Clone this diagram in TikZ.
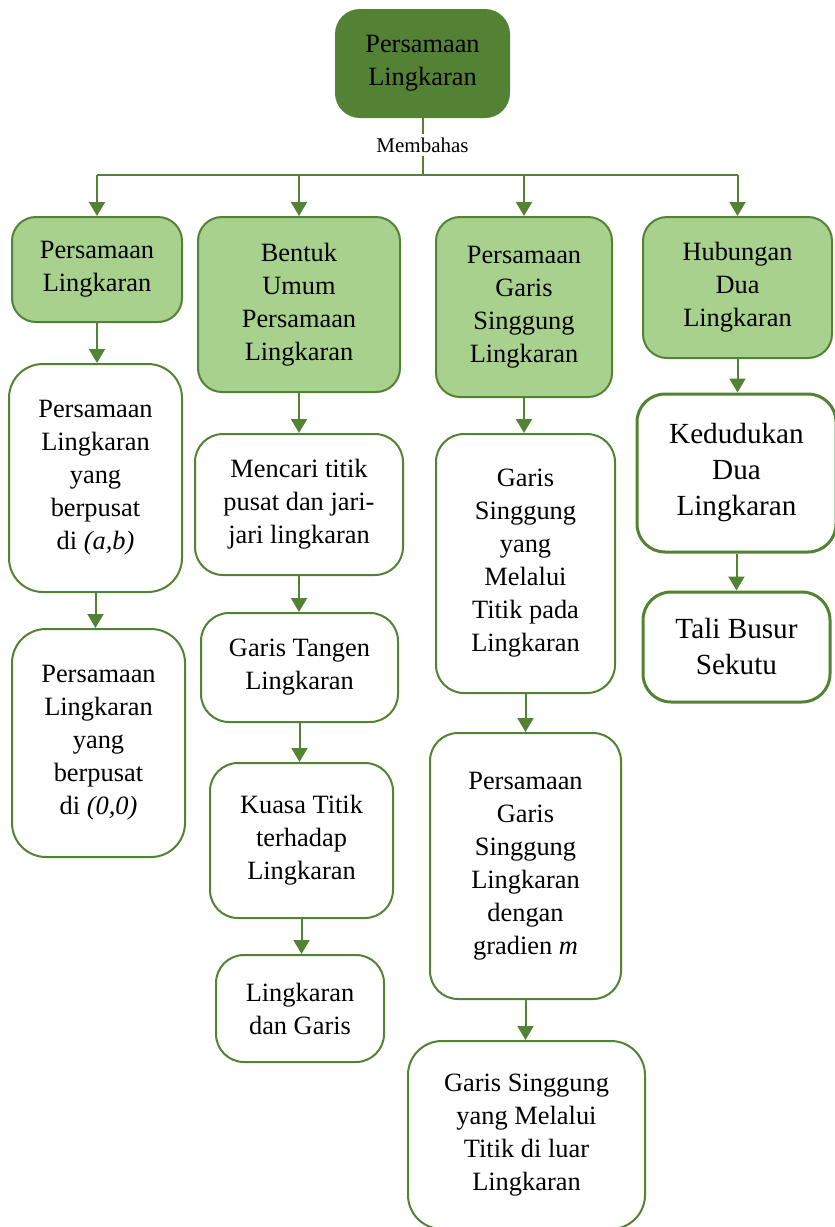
\documentclass[tikz,border=0pt]{standalone}
\usepackage{fontspec}
\setmainfont{Liberation Serif}
\usetikzlibrary{arrows.meta}
\definecolor{darkgreen}{HTML}{548235}
\definecolor{lightgreen}{HTML}{A9D18E}

\begin{document}
\begin{tikzpicture}
    [
        x = 0.5pt, y = -0.5pt,
        every node/.style = {align=center, inner sep=0pt,
            font=\fontsize{13.2}{16.5}\selectfont},
        boxsize/.style 2 args = {minimum width=#1*0.5pt, minimum height=#2*0.5pt},
        main/.style = {shape=rectangle, rounded corners=12pt,
            draw=darkgreen, line width=1pt, fill=darkgreen},
        topic/.style = {shape=rectangle, rounded corners=12pt,
            draw=darkgreen, line width=1pt, fill=lightgreen},
        subtopic/.style = {shape=rectangle, rounded corners=14pt,
            draw=darkgreen, line width=1pt, fill=white},
        bigsub/.style = {subtopic, line width=1.5pt,
            font=\fontsize{14.6}{18}\selectfont},
        line/.style = {draw=darkgreen, line width=1pt},
        link/.style = {line, -{Triangle[width=8pt,length=7pt]}}
    ]
    \useasboundingbox (0,0) rectangle (835,1227);

    % root and the bar below it
    \node (root) [main, boxsize={173}{107}] at (422.5,63.5) {Persamaan\\Lingkaran};
    \coordinate (bar) at (422.5,175);
    \draw [line] (root) -- (bar);
    \node (membahas) [fill=white, inner sep=2pt,
        font=\fontsize{10.5}{12}\selectfont] at (422.5,145) {Membahas};

    % first row
    \node (a1) [topic, boxsize={170}{105}] at (97,269.5) {Persamaan\\Lingkaran};
    \node (b1) [topic, boxsize={202}{175}] at (299,304.5) {Bentuk\\Umum\\Persamaan\\Lingkaran};
    \node (c1) [topic, boxsize={176}{180}] at (524,307) {Persamaan\\Garis\\Singgung\\Lingkaran};
    \node (d1) [topic, boxsize={189}{141}] at (737.5,287.5) {Hubungan\\Dua\\Lingkaran};

    \draw [line] (a1 |- bar) -- (d1 |- bar);
    \foreach \n in {a1,b1,c1,d1}
        \draw [link] (\n |- bar) -- (\n.north);

    % column a
    \node (a2) [subtopic, rounded corners=17pt, boxsize={173}{228}] at (95.5,478)
        {Persamaan\\Lingkaran\\yang\\berpusat\\di \textit{(a,b)}};
    \node (a3) [subtopic, rounded corners=17pt, boxsize={173}{228}] at (98.5,743)
        {Persamaan\\Lingkaran\\yang\\berpusat\\di \textit{(0,0)}};

    % column b
    \node (b2) [subtopic, boxsize={208}{141}] at (299,504.5)
        {Mencari titik\\pusat dan jari-\\jari lingkaran};
    \node (b3) [subtopic, boxsize={197}{109}] at (299.5,667.5) {Garis Tangen\\Lingkaran};
    \node (b4) [subtopic, boxsize={183}{155}] at (301.5,840.5) {Kuasa Titik\\terhadap\\Lingkaran};
    \node (b5) [subtopic, boxsize={168}{107}] at (300,1008.5) {Lingkaran\\dan Garis};

    % column c
    \node (c2) [subtopic, boxsize={179}{259}] at (525.5,563.5)
        {Garis\\Singgung\\yang\\Melalui\\Titik pada\\Lingkaran};
    \node (c3) [subtopic, boxsize={191}{266}] at (525.5,866)
        {Persamaan\\Garis\\Singgung\\Lingkaran\\dengan\\gradien \textit{m}};
    \node (c4) [subtopic, rounded corners=17pt, boxsize={237}{188}] at (526.5,1135)
        {Garis Singgung\\yang Melalui\\Titik di luar\\Lingkaran};

    % column d
    \node (d2) [bigsub, boxsize={199}{158}] at (736.5,473) {Kedudukan\\Dua\\Lingkaran};
    \node (d3) [bigsub, boxsize={187}{110}] at (736.5,647) {Tali Busur\\Sekutu};

    % links down the columns
    \foreach \p/\c in {a1/a2,a2/a3,b1/b2,b2/b3,b3/b4,b4/b5,c1/c2,c2/c3,c3/c4,d1/d2,d2/d3}
        \draw [link] (\p) -- (\p |- \c.north);
\end{tikzpicture}
\end{document}
